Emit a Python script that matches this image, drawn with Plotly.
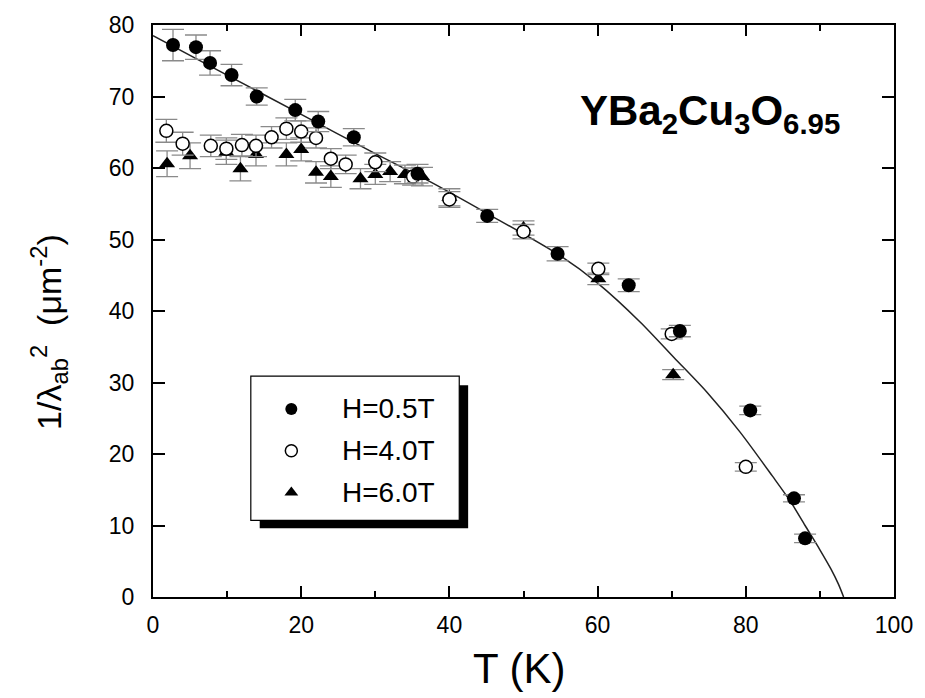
import plotly.graph_objects as go

# H = 0.5 T (filled circles)
T_05 = [2.7, 5.8, 7.7, 10.6, 14.0, 19.2, 22.3, 27.1, 35.7, 45.1, 54.6, 64.2, 71.1, 80.6, 86.5, 88.0]
L_05 = [77.2, 76.9, 74.7, 73.0, 70.0, 68.1, 66.5, 64.3, 59.2, 53.3, 48.0, 43.6, 37.2, 26.1, 13.8, 8.2]
E_05 = [2.2, 1.7, 1.7, 1.5, 1.2, 1.5, 1.4, 1.2, 1.3, 0.9, 1.0, 0.9, 0.8, 0.6, 0.5, 0.6]

# H = 4.0 T (open circles)
T_40 = [1.8, 4.0, 7.8, 9.9, 12.0, 13.9, 16.0, 18.0, 20.0, 22.0, 24.0, 26.0, 30.0, 35.1, 40.0, 50.0, 60.1, 70.0, 80.0]
L_40 = [65.2, 63.4, 63.1, 62.7, 63.2, 63.1, 64.3, 65.5, 65.1, 64.2, 61.3, 60.5, 60.8, 58.8, 55.6, 51.1, 45.9, 36.8, 18.2]
E_40 = [1.6, 1.6, 1.5, 1.5, 1.5, 1.5, 1.5, 1.5, 1.5, 1.4, 1.4, 1.3, 1.3, 1.2, 1.1, 1.0, 0.8, 0.7, 0.6]

# H = 6.0 T (triangles)
T_60 = [1.9, 5.0, 9.9, 11.8, 13.9, 18.0, 20.0, 22.0, 24.0, 28.0, 30.0, 32.0, 34.0, 36.3, 40.0, 50.0, 60.1, 70.2]
L_60 = [60.6, 61.7, 62.2, 59.9, 61.9, 61.9, 62.6, 59.4, 58.8, 58.5, 59.1, 59.5, 59.1, 58.8, 55.9, 51.6, 44.5, 31.1]
E_60 = [1.8, 1.8, 1.7, 1.7, 1.6, 1.6, 1.6, 1.5, 1.5, 1.4, 1.4, 1.4, 1.3, 1.3, 1.2, 1.0, 0.8, 0.7]

# fit curve
T_fit = [0, 10, 20, 30, 37, 45, 55, 60, 65.8, 70.3, 74.7, 79.2, 83.6, 86.0, 88.0, 90.0, 91.5, 92.5, 93.2]
L_fit = [78.5, 73.0, 67.5, 62.0, 58.3, 53.7, 47.7, 43.9, 38.4, 33.5, 28.7, 23.1, 16.9, 13.4, 10.0, 6.6, 3.9, 1.8, 0.0]

legend_labels = ["H=0.5T", "H=4.0T", "H=6.0T"]

FONT = "Liberation Sans, Arial, Helvetica, sans-serif"
ERR = dict(type="data", visible=True, color="#8a8a8a", thickness=1.3, width=11)

fig = go.Figure()

fig.add_trace(go.Scatter(x=T_fit, y=L_fit, mode="lines", line=dict(color="#222", width=1.5, shape="spline", smoothing=0.8),
                         showlegend=False, hoverinfo="skip"))

fig.add_trace(go.Scatter(x=T_60, y=L_60, mode="markers",
                         error_y=dict(array=E_60, **ERR),
                         marker=dict(symbol="triangle-up", size=14, color="black", line=dict(width=0)),
                         showlegend=False))
fig.add_trace(go.Scatter(x=T_40, y=L_40, mode="markers",
                         error_y=dict(array=E_40, **ERR),
                         marker=dict(symbol="circle", size=13, color="white", line=dict(color="black", width=1.5)),
                         showlegend=False))
fig.add_trace(go.Scatter(x=T_05, y=L_05, mode="markers",
                         error_y=dict(array=E_05, **ERR),
                         marker=dict(symbol="circle", size=14, color="black", line=dict(width=0)),
                         showlegend=False))

# manual legend (box with drop shadow)
leg_x = 0.1867
leg_y = [0.3287, 0.2557, 0.1826]
leg_sym = ["circle", "circle", "triangle-up"]
leg_fill = ["black", "white", "black"]
for i in range(3):
    fig.add_trace(go.Scatter(x=[leg_x], y=[leg_y[i]], xaxis="x2", yaxis="y2", mode="markers",
                             marker=dict(symbol=leg_sym[i], size=12, color=leg_fill[i],
                                         line=dict(color="black", width=1.5 if leg_fill[i] == "white" else 0)),
                             showlegend=False, hoverinfo="skip"))
    fig.add_annotation(x=0.252, y=leg_y[i], xref="paper", yref="paper", text=legend_labels[i],
                       showarrow=False, xanchor="left", yanchor="middle",
                       font=dict(family=FONT, size=28, color="black"))

fig.add_shape(type="rect", xref="paper", yref="paper", x0=0.144, x1=0.4253, y0=0.120, y1=0.3704,
              fillcolor="black", line=dict(width=0), layer="below")
fig.add_shape(type="rect", xref="paper", yref="paper", x0=0.132, x1=0.4133, y0=0.1339, y1=0.386,
              fillcolor="white", line=dict(color="black", width=1.2), layer="below")

# compound label
fig.add_annotation(x=0.5733, y=0.845, xref="paper", yref="paper",
                   text="<b>YBa<sub>2</sub>Cu<sub>3</sub>O<sub>6.95</sub></b>",
                   showarrow=False, xanchor="left", yanchor="middle",
                   font=dict(family=FONT, size=42, color="black"))

# axis titles
fig.add_annotation(x=0.495, y=-0.125, xref="paper", yref="paper", text="T (K)", showarrow=False,
                   xanchor="center", yanchor="middle", font=dict(family=FONT, size=42, color="black"))
fig.add_annotation(x=-0.1413, y=0.464, xref="paper", yref="paper",
                   text="1/λ<sub>ab</sub><sup>2</sup>  (μm<sup>-2</sup>)", textangle=-90,
                   showarrow=False, xanchor="center", yanchor="middle",
                   font=dict(family=FONT, size=34, color="black"))

fig.update_layout(
    width=925, height=698,
    margin=dict(l=153, r=22, t=21, b=101),
    paper_bgcolor="white", plot_bgcolor="white",
    font=dict(family=FONT, color="black"),
    xaxis=dict(range=[0, 100], dtick=20, tick0=0, ticks="inside", ticklen=11, tickwidth=1.5,
               tickcolor="black", showline=True, linecolor="black", linewidth=2, mirror="ticks",
               showgrid=False, zeroline=False, tickfont=dict(family=FONT, size=23),
               ticklabelstandoff=6,
               minor=dict(dtick=10, ticks="inside", ticklen=6, tickwidth=1.5, tickcolor="black", showgrid=False)),
    yaxis=dict(range=[0, 80], dtick=10, tick0=0, ticks="inside", ticklen=12, tickwidth=1.5,
               tickcolor="black", showline=True, linecolor="black", linewidth=2, mirror="ticks",
               showgrid=False, zeroline=False, tickfont=dict(family=FONT, size=23),
               ticklabelstandoff=12),
    xaxis2=dict(range=[0, 1], overlaying="x", visible=False, fixedrange=True),
    yaxis2=dict(range=[0, 1], overlaying="y", visible=False, fixedrange=True),
    showlegend=False,
)

fig.write_html("out.html")
